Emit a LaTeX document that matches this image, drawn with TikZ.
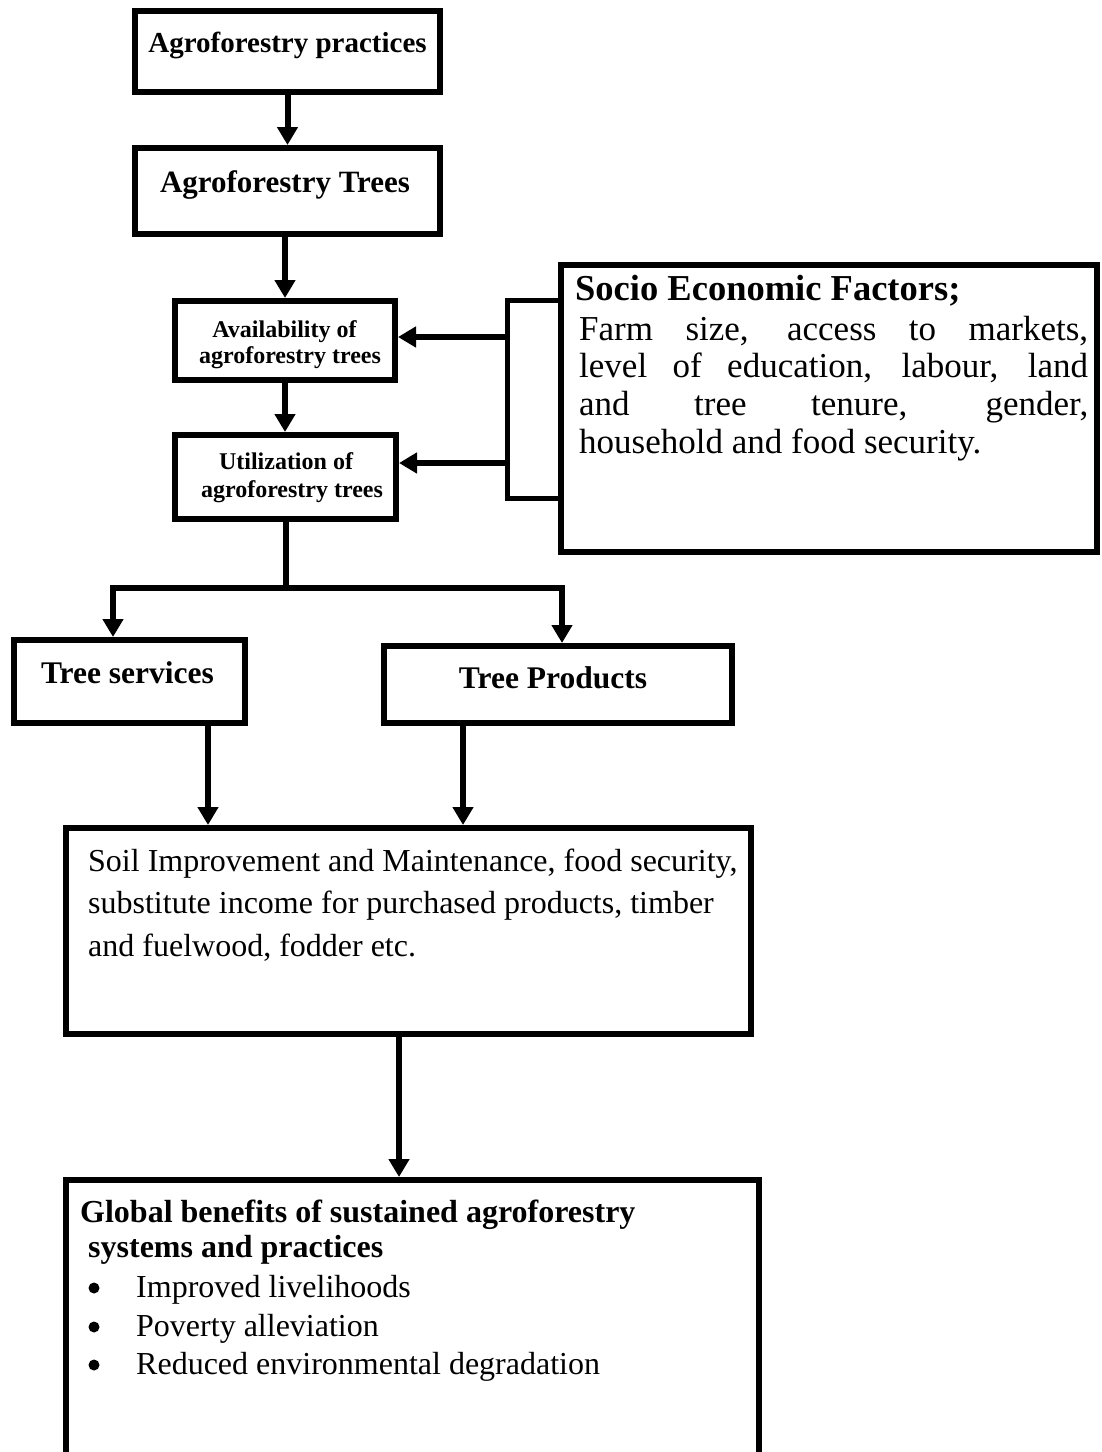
\documentclass[tikz,border=0pt]{standalone}
\usepackage{fontspec}
\setmainfont{Liberation Serif}
\usetikzlibrary{arrows.meta}
\newcommand{\myfs}[2]{\fontsize{#1pt}{#2pt}\selectfont}
\begin{document}
\begin{tikzpicture}[x=1pt,y=-1pt,
  box/.style={draw, line width=6pt, rectangle, inner sep=0pt},
  conn/.style={line width=6pt, line join=miter},
  arr/.style={conn, -{Triangle[length=18pt,width=20pt]}},
  txt/.style={inner sep=0pt, anchor=base},
  txtl/.style={inner sep=0pt, anchor=base west},
  bul/.style={fill, circle, inner sep=0pt, minimum size=11pt}]
\useasboundingbox (0,0) rectangle (1102,1452);
\clip (0,0) rectangle (1102,1452);
\fill[white] (0,0) rectangle (1102,1452);
% boxes
\node[box, minimum width=305pt, minimum height=81pt] (b1) at (287.5,51.5) {};
\node[box, minimum width=305pt, minimum height=86pt] (b2) at (287.5,191) {};
\node[box, minimum width=220pt, minimum height=79pt] (b3) at (285,340.5) {};
\node[box, minimum width=221pt, minimum height=84pt] (b4) at (285.5,477) {};
\node[box, minimum width=536pt, minimum height=287pt] (sef) at (829,408.5) {};
\node[box, minimum width=231pt, minimum height=83pt] (ts) at (129.5,681.5) {};
\node[box, minimum width=348pt, minimum height=77pt] (tp) at (558,684.5) {};
\node[box, minimum width=685pt, minimum height=206pt] (soil) at (408.5,931) {};
\node[box, minimum width=693pt, minimum height=300pt] (glob) at (412.5,1330) {};
% texts
\node[txt] (t1) at (287.5,52) {\myfs{29}{31}\bfseries Agroforestry practices};
\node[txt] (t2) at (285,192) {\myfs{31}{33}\bfseries Agroforestry Trees};
\node[txt] (t3a) at (284.5,337) {\myfs{24}{26}\bfseries Availability of};
\node[txt] (t3b) at (290,363) {\myfs{24}{26}\bfseries agroforestry trees};
\node[txt] (t4a) at (286,469) {\myfs{24}{26}\bfseries Utilization of};
\node[txt] (t4b) at (292,497) {\myfs{24}{26}\bfseries agroforestry trees};
\node[txtl] (sefh) at (575,300) {\myfs{36.5}{40}\bfseries Socio Economic Factors;};
\node[txtl] (sefb) at (579,340) {\parbox[t]{509pt}{\myfs{35}{37.7}Farm size, access to markets,\linebreak level of education, labour, land\linebreak and tree tenure, gender,\linebreak household and food security.}};
\node[txt] (tst) at (127.5,683) {\myfs{31.5}{34}\bfseries Tree services};
\node[txt] (tpt) at (553,688) {\myfs{31.5}{34}\bfseries Tree Products};
\node[txtl] (soilt) at (88,871) {\parbox[t]{700pt}{\myfs{32}{42.5}\raggedright Soil Improvement and Maintenance, food security,\\ substitute income for purchased products, timber\\ and fuelwood, fodder etc.}};
\node[txtl] (g1) at (80,1222) {\myfs{32}{36}\bfseries Global benefits of sustained agroforestry};
\node[txtl] (g2) at (88,1257) {\myfs{32}{36}\bfseries systems and practices};
\node[bul] (gb1) at (94,1288) {};
\node[bul] (gb2) at (94,1327) {};
\node[bul] (gb3) at (94,1365) {};
\node[txtl] (gi1) at (136,1297) {\myfs{32}{36}Improved livelihoods};
\node[txtl] (gi2) at (136,1336) {\myfs{32}{36}Poverty alleviation};
\node[txtl] (gi3) at (136,1374) {\myfs{32}{36}Reduced environmental degradation};
% connectors
\draw[arr] (b1.south) -- (b2.north);
\draw[arr] (b3.north |- b2.south) -- (b3.north);
\draw[arr] (b3.south) -- (b3.south |- b4.north);
\coordinate (brT) at (507,300);
\coordinate (brB) at (507,498);
\draw[conn, line width=5pt] (sef.west |- brT) -- (brT) -- (brB) -- (sef.west |- brB);
\coordinate (p3) at (507,337);
\coordinate (p4) at (507,463);
\draw[arr] (p3) -- (p3 -| b3.east);
\draw[arr] (p4) -- (p4 -| b4.east);
\coordinate (jl) at (113,588);
\coordinate (jr) at (562,588);
\coordinate (jm) at (b4.south |- jl);
\draw[conn] (b4.south) -- (jm);
\draw[arr] (jm) -- (jl) -- (jl |- ts.north);
\draw[arr] (jm) -- (jr) -- (jr |- tp.north);
\coordinate (s1) at ([xshift=78.5pt]ts.south);
\coordinate (s2) at ([xshift=-95pt]tp.south);
\coordinate (s3) at ([xshift=-9.5pt]soil.south);
\draw[arr] (s1) -- (s1 |- soil.north);
\draw[arr] (s2) -- (s2 |- soil.north);
\draw[arr] (s3) -- (s3 |- glob.north);
\end{tikzpicture}
\end{document}
